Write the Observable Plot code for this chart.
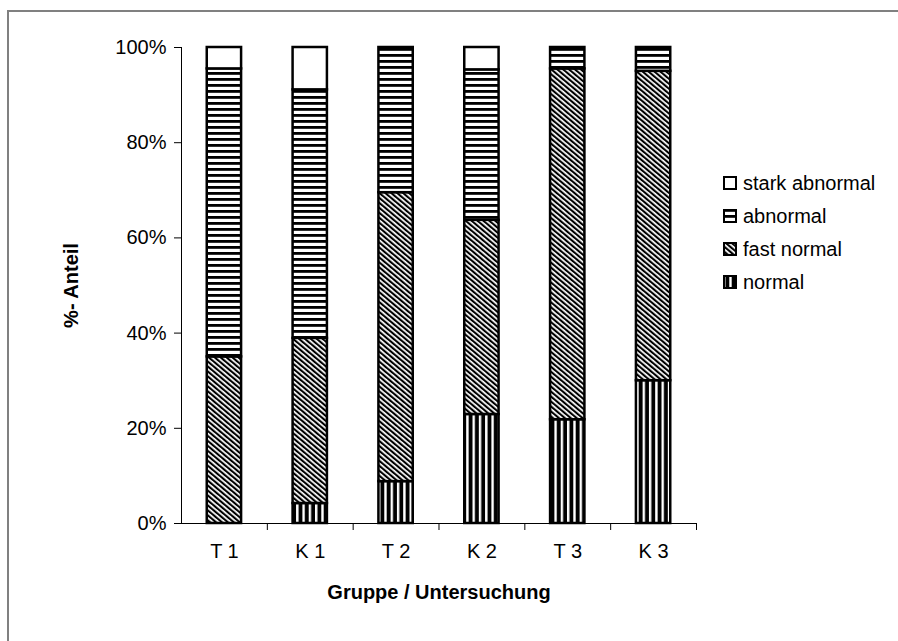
<!DOCTYPE html>
<html><head><meta charset="utf-8">
<script src="https://cdn.jsdelivr.net/npm/d3@7"></script>
<script src="https://cdn.jsdelivr.net/npm/@observablehq/plot@0.6"></script>
<style>
html,body{margin:0;padding:0;background:#fff;overflow:hidden;}
body{width:898px;height:641px;position:relative;font-family:"Liberation Sans",Arial,sans-serif;}
#chart{position:absolute;left:0;top:0;}
#frame{position:absolute;left:7px;top:10px;width:900px;height:640px;border-left:2px solid #808080;border-top:2px solid #808080;box-sizing:border-box;background:transparent;}
#legend{position:absolute;left:723px;top:0;}
.item{position:absolute;left:0;display:flex;align-items:center;white-space:nowrap;font-size:20px;line-height:24px;color:#000;}
.item svg{display:block;margin-right:6px;}
</style></head><body>
<div id="chart"></div>
<div id="legend"></div>
<div id="frame"></div>
<script>
const groups = ["T 1", "K 1", "T 2", "K 2", "T 3", "K 3"];
const types = ["normal", "fast normal", "abnormal", "stark abnormal"];
const normal = [0, 4.2, 8.8, 22.9, 21.8, 30.0];
const fastNormal = [35.0, 34.7, 60.7, 40.8, 73.7, 65.0];
const abnormal = [60.5, 52.2, 30.5, 31.6, 4.5, 5.0];
const starkAbnormal = [4.5, 8.9, 0, 4.7, 0, 0];
const yTicks = [0, 20, 40, 60, 80, 100];
const legendOrder = ["stark abnormal", "abnormal", "fast normal", "normal"];
const yLabel = "%- Anteil";
const xLabel = "Gruppe / Untersuchung";

const series = [normal, fastNormal, abnormal, starkAbnormal];
const rows = groups.flatMap((g, i) => types.map((t, k) => ({group: g, type: t, value: series[k][i]})));
const fills = {"normal": "url(#p-vert)", "fast normal": "url(#p-diag)", "abnormal": "url(#p-horiz)", "stark abnormal": "#ffffff"};

const W = 898, H = 641, mL = 181, mR = 202, mT = 47, mB = 118;
const step = (W - mL - mR) / groups.length;

const chart = Plot.plot({
  width: W, height: H,
  marginLeft: mL, marginRight: mR, marginTop: mT, marginBottom: mB,
  style: {fontFamily: "'Liberation Sans', Arial, sans-serif", fontSize: "20px", color: "#000", background: "transparent", overflow: "visible"},
  x: {domain: groups, paddingInner: 0.6, paddingOuter: 0.3, round: false, tickSize: 0, tickPadding: 20, label: null},
  y: {domain: [0, 100], ticks: yTicks, tickFormat: d => d + "%", tickSize: 7, tickPadding: 8, line: true, label: null},
  color: {type: "ordinal", domain: types, range: types.map(t => fills[t])},
  marks: [
    Plot.barY(rows.filter(d => d.value > 0), {x: "group", y: "value", fill: "type", stroke: "#000", strokeWidth: 2.5}),
    Plot.ruleY([0], {stroke: "#000"}),
    Plot.ruleX(groups, {x: d => d, y1: 0, y2: 0, dx: step / 2, insetTop: 7, stroke: "#000"}),
    Plot.text([yLabel], {frameAnchor: "left", dx: -110, rotate: -90, textAnchor: "middle", lineAnchor: "middle", fontWeight: "bold", fontSize: 20, fill: "#000"}),
    Plot.text([xLabel], {frameAnchor: "bottom", dy: 69, textAnchor: "middle", lineAnchor: "middle", fontWeight: "bold", fontSize: 20, fill: "#000"})
  ]
});

const ns = "http://www.w3.org/2000/svg";
const defs = document.createElementNS(ns, "defs");
defs.innerHTML = `
<pattern id="p-vert" patternUnits="userSpaceOnUse" width="6.3" height="10">
  <rect width="6.3" height="10" fill="#000"/><rect x="0" width="2.4" height="10" fill="#fff"/>
</pattern>
<pattern id="p-horiz" patternUnits="userSpaceOnUse" width="10" height="6">
  <rect width="10" height="6" fill="#fff"/><rect width="10" height="2.8" fill="#000"/>
</pattern>
<pattern id="p-diag" patternUnits="userSpaceOnUse" width="3.8" height="10" patternTransform="rotate(-50)">
  <rect width="3.8" height="10" fill="#fff"/><rect width="2.1" height="10" fill="#000"/>
</pattern>`;
chart.insertBefore(defs, chart.firstChild);
document.getElementById("chart").appendChild(chart);

const centers = [183, 216, 249, 282];
const legend = document.getElementById("legend");
legendOrder.forEach((t, i) => {
  const item = document.createElement("div");
  item.className = "item";
  item.style.top = (centers[i] - 12) + "px";
  item.innerHTML = `<svg width="14" height="14"><rect x="1" y="1" width="12" height="12" fill="${fills[t]}" stroke="#000" stroke-width="2"/></svg><span>${t}</span>`;
  legend.appendChild(item);
});
</script>
</body></html>
